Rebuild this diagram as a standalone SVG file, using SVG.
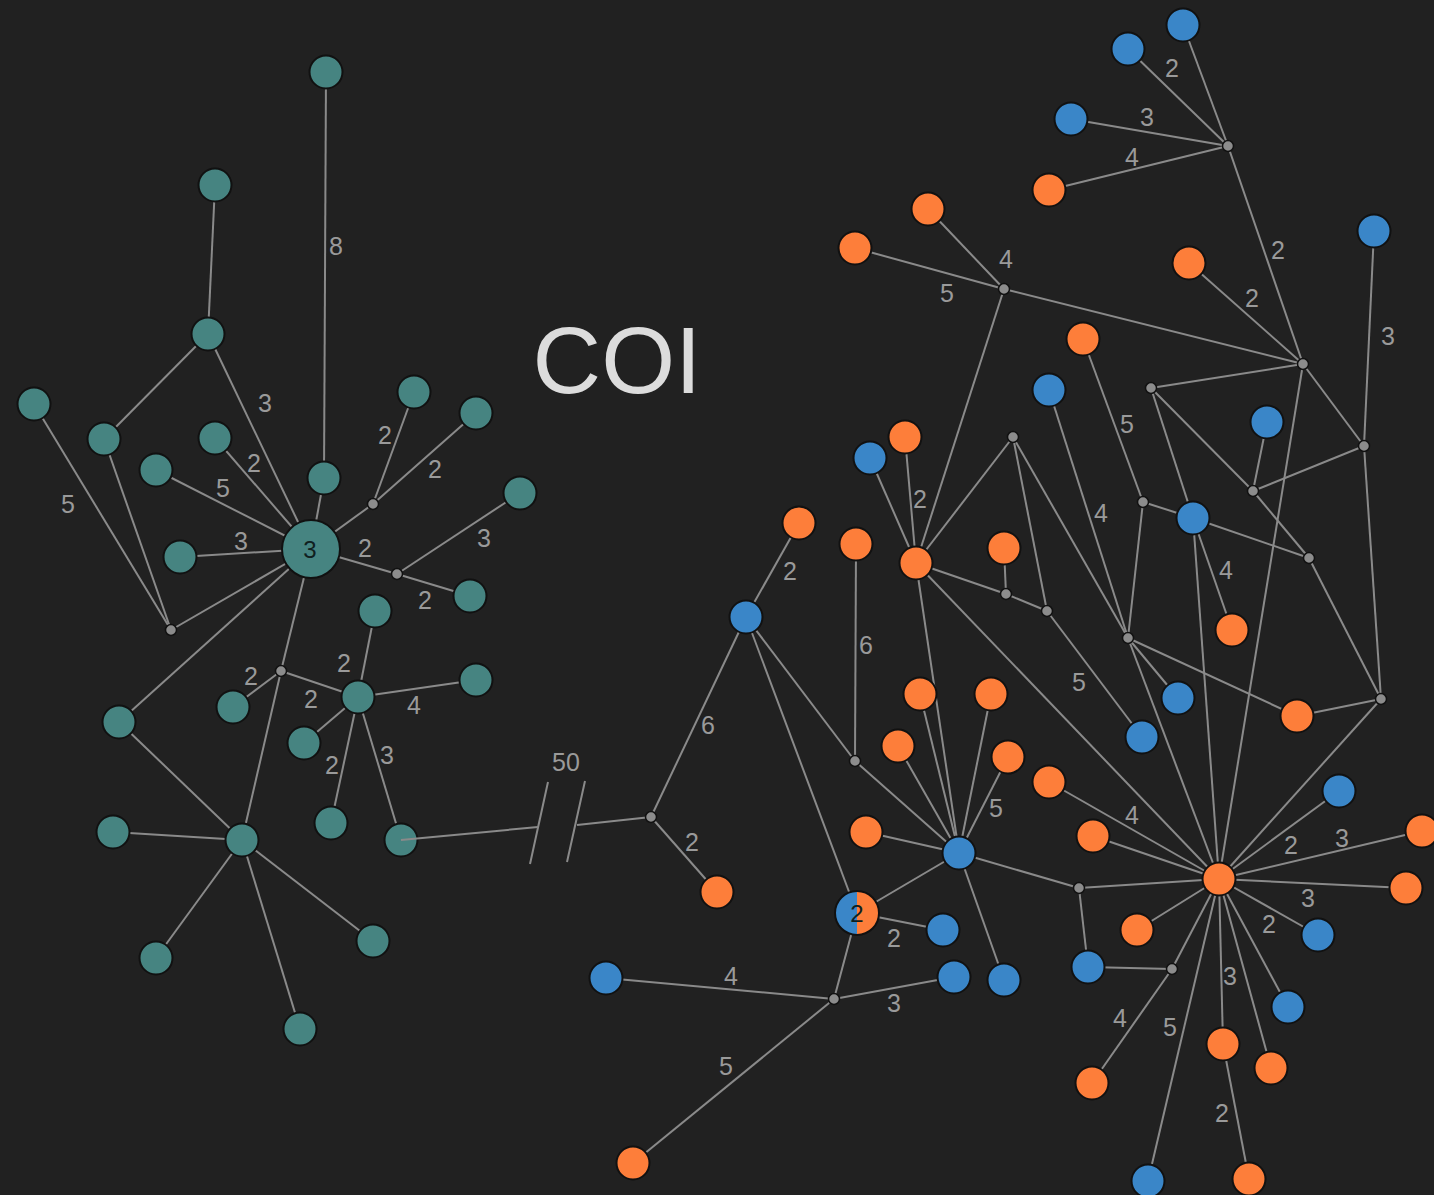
<svg xmlns="http://www.w3.org/2000/svg" width="1434" height="1195" viewBox="0 0 1434 1195">
<style>
.e{stroke:#8a8a8a;stroke-width:2;fill:none}
.n{stroke:#111;stroke-width:2}
.t{fill:#468481}
.b{fill:#3a86c8}
.o{fill:#fd7e3a}
.j{fill:#8c8c8c;stroke:#111;stroke-width:1.5}
.l{font-family:"Liberation Sans",Arial,sans-serif;font-size:25px;fill:#9a9a9a;text-anchor:middle;dominant-baseline:central}
.in{font-family:"Liberation Sans",Arial,sans-serif;font-size:24px;fill:#10201f;text-anchor:middle;dominant-baseline:central}
</style>
<defs>
<clipPath id="lh"><rect x="835" y="880" width="22" height="70"/></clipPath>
<clipPath id="rh"><rect x="857" y="880" width="22" height="70"/></clipPath>
</defs>
<rect width="1434" height="1195" fill="#212121"/>
<text x="617" y="393" font-family="Liberation Sans,Arial,sans-serif" font-size="95" fill="#dcdcdc" text-anchor="middle">COI</text>
<g id="connectors">
<line class="e" x1="326" y1="72" x2="324" y2="478"/>
<line class="e" x1="215" y1="185" x2="208" y2="334"/>
<line class="e" x1="208" y1="334" x2="104" y2="439"/>
<line class="e" x1="208" y1="334" x2="311" y2="549"/>
<line class="e" x1="34" y1="404" x2="171" y2="630"/>
<line class="e" x1="104" y1="439" x2="171" y2="630"/>
<line class="e" x1="215" y1="438" x2="311" y2="549"/>
<line class="e" x1="156" y1="470" x2="311" y2="549"/>
<line class="e" x1="324" y1="478" x2="311" y2="549"/>
<line class="e" x1="180" y1="557" x2="311" y2="549"/>
<line class="e" x1="311" y1="549" x2="171" y2="630"/>
<line class="e" x1="311" y1="549" x2="373" y2="504"/>
<line class="e" x1="373" y1="504" x2="414" y2="392"/>
<line class="e" x1="373" y1="504" x2="476" y2="413"/>
<line class="e" x1="311" y1="549" x2="397" y2="574"/>
<line class="e" x1="397" y1="574" x2="520" y2="493"/>
<line class="e" x1="397" y1="574" x2="470" y2="596"/>
<line class="e" x1="311" y1="549" x2="119" y2="722"/>
<line class="e" x1="311" y1="549" x2="281" y2="671"/>
<line class="e" x1="281" y1="671" x2="242" y2="840"/>
<line class="e" x1="281" y1="671" x2="233" y2="707"/>
<line class="e" x1="281" y1="671" x2="358" y2="697"/>
<line class="e" x1="375" y1="611" x2="358" y2="697"/>
<line class="e" x1="358" y1="697" x2="476" y2="680"/>
<line class="e" x1="358" y1="697" x2="304" y2="743"/>
<line class="e" x1="358" y1="697" x2="331" y2="823"/>
<line class="e" x1="358" y1="697" x2="401" y2="840"/>
<line class="e" x1="119" y1="722" x2="242" y2="840"/>
<line class="e" x1="113" y1="832" x2="242" y2="840"/>
<line class="e" x1="242" y1="840" x2="156" y2="958"/>
<line class="e" x1="242" y1="840" x2="373" y2="941"/>
<line class="e" x1="242" y1="840" x2="300" y2="1029"/>
<line class="e" x1="577" y1="825" x2="651" y2="817"/>
<line class="e" x1="548" y1="782" x2="530" y2="864"/>
<line class="e" x1="585" y1="781" x2="567" y2="862"/>
<line class="e" x1="1183" y1="25" x2="1228" y2="146"/>
<line class="e" x1="1128" y1="49" x2="1228" y2="146"/>
<line class="e" x1="1071" y1="119" x2="1228" y2="146"/>
<line class="e" x1="1049" y1="190" x2="1228" y2="146"/>
<line class="e" x1="1228" y1="146" x2="1303" y2="364"/>
<line class="e" x1="928" y1="209" x2="1004" y2="289"/>
<line class="e" x1="855" y1="248" x2="1004" y2="289"/>
<line class="e" x1="1004" y1="289" x2="1303" y2="364"/>
<line class="e" x1="1004" y1="289" x2="916" y2="563"/>
<line class="e" x1="1189" y1="263" x2="1303" y2="364"/>
<line class="e" x1="1151" y1="388" x2="1303" y2="364"/>
<line class="e" x1="1303" y1="364" x2="1364" y2="446"/>
<line class="e" x1="1303" y1="364" x2="1219" y2="879"/>
<line class="e" x1="1374" y1="231" x2="1364" y2="446"/>
<line class="e" x1="1364" y1="446" x2="1253" y2="491"/>
<line class="e" x1="1364" y1="446" x2="1381" y2="699"/>
<line class="e" x1="1267" y1="422" x2="1253" y2="491"/>
<line class="e" x1="1151" y1="388" x2="1253" y2="491"/>
<line class="e" x1="1253" y1="491" x2="1309" y2="558"/>
<line class="e" x1="1151" y1="388" x2="1193" y2="518"/>
<line class="e" x1="1143" y1="502" x2="1193" y2="518"/>
<line class="e" x1="1193" y1="518" x2="1309" y2="558"/>
<line class="e" x1="1193" y1="518" x2="1232" y2="630"/>
<line class="e" x1="1193" y1="518" x2="1219" y2="879"/>
<line class="e" x1="1309" y1="558" x2="1381" y2="699"/>
<line class="e" x1="1297" y1="716" x2="1381" y2="699"/>
<line class="e" x1="1381" y1="699" x2="1219" y2="879"/>
<line class="e" x1="1083" y1="339" x2="1143" y2="502"/>
<line class="e" x1="1143" y1="502" x2="1128" y2="638"/>
<line class="e" x1="1049" y1="390" x2="1128" y2="638"/>
<line class="e" x1="1013" y1="437" x2="1128" y2="638"/>
<line class="e" x1="1128" y1="638" x2="1297" y2="716"/>
<line class="e" x1="1128" y1="638" x2="1178" y2="698"/>
<line class="e" x1="1128" y1="638" x2="1219" y2="879"/>
<line class="e" x1="870" y1="458" x2="916" y2="563"/>
<line class="e" x1="905" y1="437" x2="916" y2="563"/>
<line class="e" x1="1013" y1="437" x2="916" y2="563"/>
<line class="e" x1="916" y1="563" x2="1006" y2="594"/>
<line class="e" x1="916" y1="563" x2="959" y2="853"/>
<line class="e" x1="916" y1="563" x2="1219" y2="879"/>
<line class="e" x1="1004" y1="548" x2="1006" y2="594"/>
<line class="e" x1="1006" y1="594" x2="1047" y2="611"/>
<line class="e" x1="1013" y1="437" x2="1047" y2="611"/>
<line class="e" x1="1047" y1="611" x2="1142" y2="737"/>
<line class="e" x1="799" y1="523" x2="746" y2="617"/>
<line class="e" x1="746" y1="617" x2="651" y2="817"/>
<line class="e" x1="746" y1="617" x2="855" y2="761"/>
<line class="e" x1="746" y1="617" x2="857" y2="913"/>
<line class="e" x1="856" y1="544" x2="855" y2="761"/>
<line class="e" x1="855" y1="761" x2="959" y2="853"/>
<line class="e" x1="651" y1="817" x2="717" y2="892"/>
<line class="e" x1="920" y1="694" x2="959" y2="853"/>
<line class="e" x1="991" y1="694" x2="959" y2="853"/>
<line class="e" x1="898" y1="746" x2="959" y2="853"/>
<line class="e" x1="1008" y1="757" x2="959" y2="853"/>
<line class="e" x1="866" y1="832" x2="959" y2="853"/>
<line class="e" x1="857" y1="913" x2="959" y2="853"/>
<line class="e" x1="959" y1="853" x2="1079" y2="888"/>
<line class="e" x1="959" y1="853" x2="1004" y2="980"/>
<line class="e" x1="857" y1="913" x2="943" y2="930"/>
<line class="e" x1="857" y1="913" x2="834" y2="999"/>
<line class="e" x1="606" y1="978" x2="834" y2="999"/>
<line class="e" x1="633" y1="1163" x2="834" y2="999"/>
<line class="e" x1="834" y1="999" x2="954" y2="977"/>
<line class="e" x1="1079" y1="888" x2="1219" y2="879"/>
<line class="e" x1="1079" y1="888" x2="1088" y2="967"/>
<line class="e" x1="1049" y1="782" x2="1219" y2="879"/>
<line class="e" x1="1093" y1="836" x2="1219" y2="879"/>
<line class="e" x1="1137" y1="930" x2="1219" y2="879"/>
<line class="e" x1="1339" y1="791" x2="1219" y2="879"/>
<line class="e" x1="1422" y1="831" x2="1219" y2="879"/>
<line class="e" x1="1406" y1="888" x2="1219" y2="879"/>
<line class="e" x1="1318" y1="935" x2="1219" y2="879"/>
<line class="e" x1="1288" y1="1007" x2="1219" y2="879"/>
<line class="e" x1="1223" y1="1044" x2="1219" y2="879"/>
<line class="e" x1="1271" y1="1068" x2="1219" y2="879"/>
<line class="e" x1="1148" y1="1181" x2="1219" y2="879"/>
<line class="e" x1="1172" y1="969" x2="1219" y2="879"/>
<line class="e" x1="1088" y1="967" x2="1172" y2="969"/>
<line class="e" x1="1172" y1="969" x2="1092" y2="1083"/>
<line class="e" x1="1223" y1="1044" x2="1249" y2="1179"/>
</g>
<g id="labels">
<text class="l" x="336" y="246">8</text>
<text class="l" x="265" y="403">3</text>
<text class="l" x="254" y="463">2</text>
<text class="l" x="223" y="488">5</text>
<text class="l" x="241" y="541">3</text>
<text class="l" x="68" y="504">5</text>
<text class="l" x="385" y="435">2</text>
<text class="l" x="435" y="469">2</text>
<text class="l" x="365" y="548">2</text>
<text class="l" x="484" y="538">3</text>
<text class="l" x="425" y="600">2</text>
<text class="l" x="251" y="676">2</text>
<text class="l" x="344" y="663">2</text>
<text class="l" x="311" y="699">2</text>
<text class="l" x="414" y="705">4</text>
<text class="l" x="332" y="765">2</text>
<text class="l" x="387" y="755">3</text>
<text class="l" x="566" y="762">50</text>
<text class="l" x="790" y="571">2</text>
<text class="l" x="708" y="725">6</text>
<text class="l" x="866" y="645">6</text>
<text class="l" x="692" y="842">2</text>
<text class="l" x="731" y="976">4</text>
<text class="l" x="726" y="1066">5</text>
<text class="l" x="894" y="1003">3</text>
<text class="l" x="894" y="938">2</text>
<text class="l" x="1172" y="68">2</text>
<text class="l" x="1147" y="117">3</text>
<text class="l" x="1132" y="157">4</text>
<text class="l" x="1006" y="259">4</text>
<text class="l" x="947" y="293">5</text>
<text class="l" x="1278" y="250">2</text>
<text class="l" x="1252" y="298">2</text>
<text class="l" x="1388" y="336">3</text>
<text class="l" x="1127" y="424">5</text>
<text class="l" x="920" y="499">2</text>
<text class="l" x="1101" y="513">4</text>
<text class="l" x="1226" y="570">4</text>
<text class="l" x="1079" y="682">5</text>
<text class="l" x="996" y="808">5</text>
<text class="l" x="1132" y="815">4</text>
<text class="l" x="1291" y="845">2</text>
<text class="l" x="1342" y="838">3</text>
<text class="l" x="1308" y="898">3</text>
<text class="l" x="1269" y="924">2</text>
<text class="l" x="1230" y="976">3</text>
<text class="l" x="1170" y="1027">5</text>
<text class="l" x="1222" y="1113">2</text>
<text class="l" x="1120" y="1018">4</text>
</g>
<g id="junctions">
<circle id="J1" class="j" cx="171" cy="630" r="5.5"/>
<circle id="J2" class="j" cx="373" cy="504" r="5.5"/>
<circle id="J3" class="j" cx="397" cy="574" r="5.5"/>
<circle id="J4" class="j" cx="281" cy="671" r="5.5"/>
<circle id="JA" class="j" cx="1228" cy="146" r="5.5"/>
<circle id="JB" class="j" cx="1004" cy="289" r="5.5"/>
<circle id="JC" class="j" cx="1303" cy="364" r="5.5"/>
<circle id="JD" class="j" cx="1151" cy="388" r="5.5"/>
<circle id="JE" class="j" cx="1364" cy="446" r="5.5"/>
<circle id="JF" class="j" cx="1253" cy="491" r="5.5"/>
<circle id="JG" class="j" cx="1381" cy="699" r="5.5"/>
<circle id="JH" class="j" cx="1309" cy="558" r="5.5"/>
<circle id="JI" class="j" cx="1128" cy="638" r="5.5"/>
<circle id="JJ" class="j" cx="1143" cy="502" r="5.5"/>
<circle id="JK" class="j" cx="1013" cy="437" r="5.5"/>
<circle id="JL" class="j" cx="1006" cy="594" r="5.5"/>
<circle id="JM" class="j" cx="1047" cy="611" r="5.5"/>
<circle id="JN" class="j" cx="855" cy="761" r="5.5"/>
<circle id="JO" class="j" cx="651" cy="817" r="5.5"/>
<circle id="JP" class="j" cx="834" cy="999" r="5.5"/>
<circle id="JQ" class="j" cx="1079" cy="888" r="5.5"/>
<circle id="JR" class="j" cx="1172" cy="969" r="5.5"/>
</g>
<g id="T1"><circle class="n t" cx="326" cy="72" r="16.5"/></g>
<g id="T2"><circle class="n t" cx="215" cy="185" r="16.5"/></g>
<g id="T3"><circle class="n t" cx="208" cy="334" r="16.5"/></g>
<g id="T4"><circle class="n t" cx="34" cy="404" r="16.5"/></g>
<g id="T5"><circle class="n t" cx="104" cy="439" r="16.5"/></g>
<g id="T6"><circle class="n t" cx="215" cy="438" r="16.5"/></g>
<g id="T7"><circle class="n t" cx="156" cy="470" r="16.5"/></g>
<g id="T8"><circle class="n t" cx="414" cy="392" r="16.5"/></g>
<g id="T9"><circle class="n t" cx="476" cy="413" r="16.5"/></g>
<g id="T10"><circle class="n t" cx="324" cy="478" r="16.5"/></g>
<g id="T11"><circle class="n t" cx="520" cy="493" r="16.5"/></g>
<g id="H"><circle class="n t" cx="311" cy="549" r="29"/><text class="in" x="310" y="549">3</text></g>
<g id="T12"><circle class="n t" cx="180" cy="557" r="16.5"/></g>
<g id="T13"><circle class="n t" cx="470" cy="596" r="16.5"/></g>
<g id="T14"><circle class="n t" cx="375" cy="611" r="16.5"/></g>
<g id="T15"><circle class="n t" cx="358" cy="697" r="16.5"/></g>
<g id="T16"><circle class="n t" cx="476" cy="680" r="16.5"/></g>
<g id="T17"><circle class="n t" cx="119" cy="722" r="16.5"/></g>
<g id="T18"><circle class="n t" cx="233" cy="707" r="16.5"/></g>
<g id="T19"><circle class="n t" cx="304" cy="743" r="16.5"/></g>
<g id="T20"><circle class="n t" cx="113" cy="832" r="16.5"/></g>
<g id="T21"><circle class="n t" cx="242" cy="840" r="16.5"/></g>
<g id="T22"><circle class="n t" cx="331" cy="823" r="16.5"/></g>
<g id="T23"><circle class="n t" cx="401" cy="840" r="16.5"/></g>
<g id="T24"><circle class="n t" cx="156" cy="958" r="16.5"/></g>
<g id="T25"><circle class="n t" cx="373" cy="941" r="16.5"/></g>
<g id="T26"><circle class="n t" cx="300" cy="1029" r="16.5"/></g>
<g id="link-T23-break"><line class="e" x1="401" y1="840" x2="538" y2="827"/></g>
<g id="B1"><circle class="n b" cx="1183" cy="25" r="16.5"/></g>
<g id="B2"><circle class="n b" cx="1128" cy="49" r="16.5"/></g>
<g id="B3"><circle class="n b" cx="1071" cy="119" r="16.5"/></g>
<g id="B4"><circle class="n b" cx="1374" cy="231" r="16.5"/></g>
<g id="B5"><circle class="n b" cx="1267" cy="422" r="16.5"/></g>
<g id="B6"><circle class="n b" cx="1193" cy="518" r="16.5"/></g>
<g id="B7"><circle class="n b" cx="1178" cy="698" r="16.5"/></g>
<g id="B8"><circle class="n b" cx="1142" cy="737" r="16.5"/></g>
<g id="B9"><circle class="n b" cx="1049" cy="390" r="16.5"/></g>
<g id="B10"><circle class="n b" cx="870" cy="458" r="16.5"/></g>
<g id="B11"><circle class="n b" cx="746" cy="617" r="16.5"/></g>
<g id="B12"><circle class="n b" cx="959" cy="853" r="16.5"/></g>
<g id="B13"><circle class="n b" cx="606" cy="978" r="16.5"/></g>
<g id="B14"><circle class="n b" cx="954" cy="977" r="16.5"/></g>
<g id="B15"><circle class="n b" cx="943" cy="930" r="16.5"/></g>
<g id="B16"><circle class="n b" cx="1004" cy="980" r="16.5"/></g>
<g id="B17"><circle class="n b" cx="1088" cy="967" r="16.5"/></g>
<g id="B18"><circle class="n b" cx="1339" cy="791" r="16.5"/></g>
<g id="B19"><circle class="n b" cx="1318" cy="935" r="16.5"/></g>
<g id="B20"><circle class="n b" cx="1288" cy="1007" r="16.5"/></g>
<g id="B21"><circle class="n b" cx="1148" cy="1181" r="16.5"/></g>
<g id="O1"><circle class="n o" cx="1049" cy="190" r="16.5"/></g>
<g id="O2"><circle class="n o" cx="928" cy="209" r="16.5"/></g>
<g id="O3"><circle class="n o" cx="855" cy="248" r="16.5"/></g>
<g id="O4"><circle class="n o" cx="1189" cy="263" r="16.5"/></g>
<g id="O5"><circle class="n o" cx="916" cy="563" r="16.5"/></g>
<g id="O6"><circle class="n o" cx="1297" cy="716" r="16.5"/></g>
<g id="O7"><circle class="n o" cx="1232" cy="630" r="16.5"/></g>
<g id="O8"><circle class="n o" cx="1083" cy="339" r="16.5"/></g>
<g id="O9"><circle class="n o" cx="905" cy="437" r="16.5"/></g>
<g id="O10"><circle class="n o" cx="856" cy="544" r="16.5"/></g>
<g id="O11"><circle class="n o" cx="1004" cy="548" r="16.5"/></g>
<g id="O12"><circle class="n o" cx="1049" cy="782" r="16.5"/></g>
<g id="O13"><circle class="n o" cx="799" cy="523" r="16.5"/></g>
<g id="O15"><circle class="n o" cx="866" cy="832" r="16.5"/></g>
<g id="O16"><circle class="n o" cx="717" cy="892" r="16.5"/></g>
<g id="O17"><circle class="n o" cx="633" cy="1163" r="16.5"/></g>
<g id="O18"><circle class="n o" cx="920" cy="694" r="16.5"/></g>
<g id="O19"><circle class="n o" cx="991" cy="694" r="16.5"/></g>
<g id="O20"><circle class="n o" cx="898" cy="746" r="16.5"/></g>
<g id="O21"><circle class="n o" cx="1008" cy="757" r="16.5"/></g>
<g id="O23"><circle class="n o" cx="1093" cy="836" r="16.5"/></g>
<g id="O24"><circle class="n o" cx="1137" cy="930" r="16.5"/></g>
<g id="O25"><circle class="n o" cx="1422" cy="831" r="16.5"/></g>
<g id="O26"><circle class="n o" cx="1406" cy="888" r="16.5"/></g>
<g id="O27"><circle class="n o" cx="1223" cy="1044" r="16.5"/></g>
<g id="O28"><circle class="n o" cx="1271" cy="1068" r="16.5"/></g>
<g id="O29"><circle class="n o" cx="1249" cy="1179" r="16.5"/></g>
<g id="O30"><circle class="n o" cx="1092" cy="1083" r="16.5"/></g>
<g id="HUB2"><circle class="n o" cx="1219" cy="879" r="16.5"/></g>
<g id="S">
<circle class="b" cx="857" cy="913" r="22" clip-path="url(#lh)"/>
<circle class="o" cx="857" cy="913" r="22" clip-path="url(#rh)"/>
<circle cx="857" cy="913" r="22" fill="none" stroke="#111" stroke-width="2"/>
<text class="in" x="857" y="913" font-size="28" fill="#000">2</text>
</g>
</svg>
